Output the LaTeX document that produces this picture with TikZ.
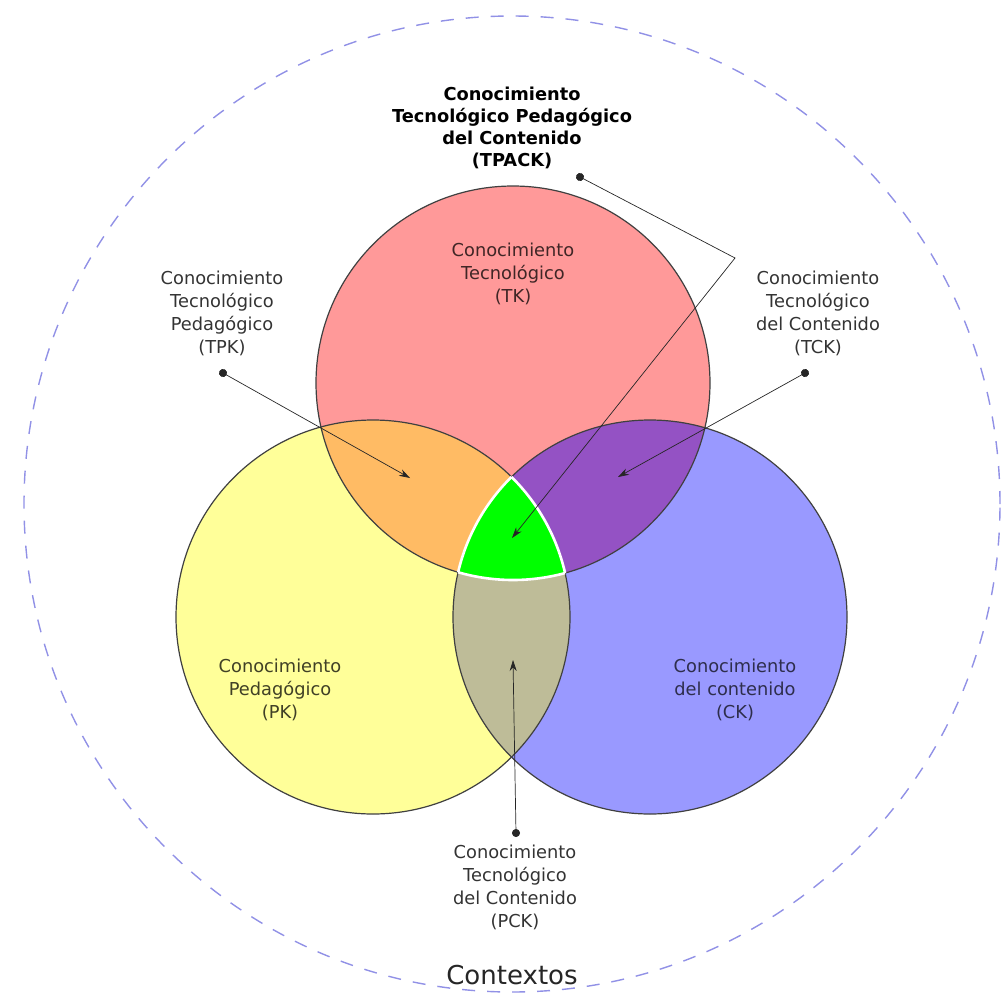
\documentclass[tikz,border=0pt]{standalone}
\usepackage{fontspec}
\setmainfont{DejaVu Sans}
\usetikzlibrary{arrows.meta,positioning}

\definecolor{tkred}{RGB}{255,153,153}
\definecolor{pkyellow}{RGB}{255,255,153}
\definecolor{ckblue}{RGB}{153,153,255}
\definecolor{tpkorange}{RGB}{255,187,100}
\definecolor{tckpurple}{RGB}{148,82,196}
\definecolor{pckgray}{RGB}{190,188,152}
\definecolor{tpackgreen}{RGB}{0,255,0}
\definecolor{ctxdash}{RGB}{145,145,230}

\begin{document}
\begin{tikzpicture}[x=1pt, y=-1pt,
    outtext/.style={align=center, font=\fontsize{17.8}{23}\selectfont, text=black!80},
    intext/.style={align=center, font=\fontsize{17.8}{23}\selectfont},
    pointer/.style={{Circle[length=8pt]}-{Stealth[length=11pt,width=7pt]}, shorten <=-4pt, line width=0.7pt, black!85},
    rim/.style={line width=1.2pt, black!75}]
    \useasboundingbox (0,0) rectangle (1005,1002);

    % Contextos
    \draw[ctxdash, line width=1.4pt, dash pattern=on 13pt off 12pt] (512,504) circle (488pt);
    \node[font=\fontsize{26}{30}\selectfont, text=black!85] (ctx) at (512,975) {Contextos};

    % Centres of the three circles
    \coordinate (tkc) at (513,383);
    \coordinate (pkc) at (373,617);
    \coordinate (ckc) at (650,617);

    % Circles
    \fill[tkred] (tkc) circle (197pt);
    \fill[pkyellow] (pkc) circle (197pt);
    \fill[ckblue] (ckc) circle (197pt);

    % Overlaps
    \begin{scope}
        \clip (tkc) circle (197pt);
        \fill[tpkorange] (pkc) circle (197pt);
        \fill[tckpurple] (ckc) circle (197pt);
    \end{scope}
    \begin{scope}
        \clip (pkc) circle (197pt);
        \fill[pckgray] (ckc) circle (197pt);
    \end{scope}
    \begin{scope}
        \clip (tkc) circle (197pt);
        \clip (pkc) circle (197pt);
        \fill[tpackgreen] (ckc) circle (197pt);
    \end{scope}

    % Outlines
    \draw[rim] (tkc) circle (197pt);
    \draw[rim] (pkc) circle (197pt);
    \draw[rim] (ckc) circle (197pt);

    % White border round TPACK
    \begin{scope}
        \clip (pkc) circle (197pt);
        \clip (ckc) circle (197pt);
        \draw[white, line width=2.6pt] (tkc) circle (197pt);
    \end{scope}
    \begin{scope}
        \clip (tkc) circle (197pt);
        \clip (ckc) circle (197pt);
        \draw[white, line width=2.6pt] (pkc) circle (197pt);
    \end{scope}
    \begin{scope}
        \clip (tkc) circle (197pt);
        \clip (pkc) circle (197pt);
        \draw[white, line width=2.6pt] (ckc) circle (197pt);
    \end{scope}

    % Labels inside the circles
    \node[intext, text=tkred!25!black] (tk) at (513,274) {Conocimiento\\Tecnológico\\(TK)};
    \node[intext, text=pkyellow!25!black] (pk) at (280,690) {Conocimiento\\Pedagógico\\(PK)};
    \node[intext, text=ckblue!30!black] (ck) at (735,690) {Conocimiento\\del contenido\\(CK)};

    % Labels outside
    \node[outtext, font=\fontsize{17.8}{22}\selectfont\bfseries, text=black] (tpack) at (512,128)
        {Conocimiento\\Tecnológico Pedagógico\\del Contenido\\(TPACK)};
    \node[outtext] (tpk) at (222,313) {Conocimiento\\Tecnológico\\Pedagógico\\(TPK)};
    \node[outtext] (tck) at (818,313) {Conocimiento\\Tecnológico\\del Contenido\\(TCK)};
    \node[outtext] (pck) at (515,887) {Conocimiento\\Tecnológico\\del Contenido\\(PCK)};

    % Pointers
    \coordinate (tpackdot) at (580,177);
    \coordinate (tpackbend) at (735,258);
    \coordinate (tpacktip) at (512,538);
    \coordinate (tpkdot) at (223,373);
    \coordinate (tpktip) at (410,478);
    \coordinate (tckdot) at (805,373);
    \coordinate (tcktip) at (618,477);
    \coordinate (pckdot) at (516,833);
    \coordinate (pcktip) at (513,660);

    \draw[pointer] (tpackdot) -- (tpackbend) -- (tpacktip);
    \draw[pointer] (tpkdot) -- (tpktip);
    \draw[pointer] (tckdot) -- (tcktip);
    \draw[pointer] (pckdot) -- (pcktip);
\end{tikzpicture}
\end{document}
